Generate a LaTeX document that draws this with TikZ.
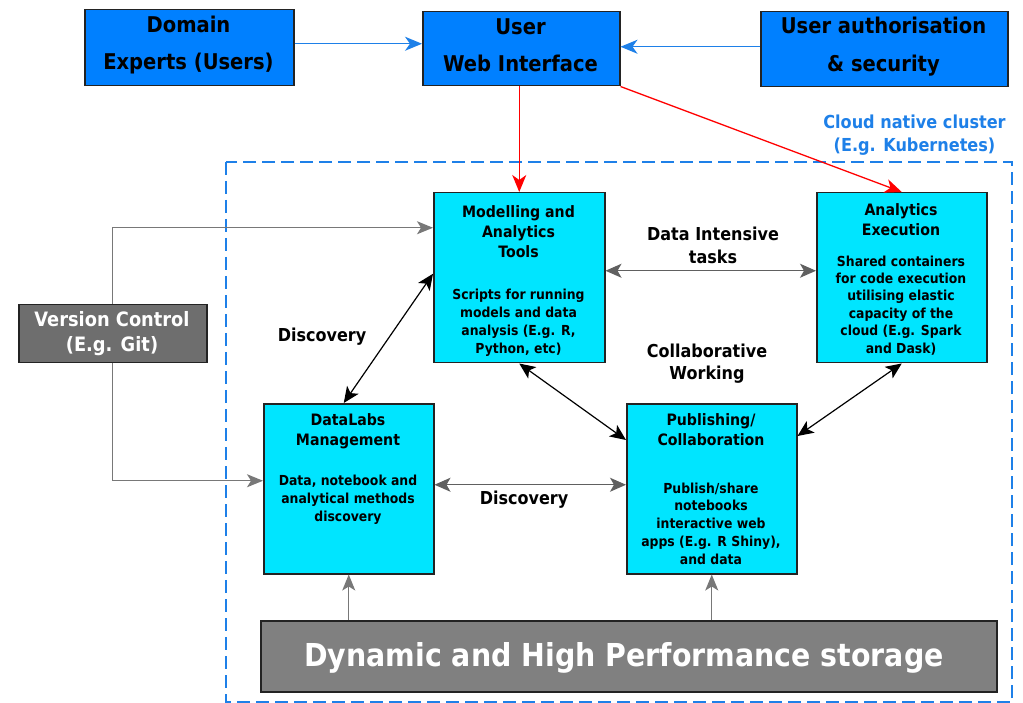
\documentclass[tikz,border=0pt]{standalone}
\usepackage{fontspec}
\setmainfont{DejaVu Sans}[FakeStretch=0.9]
\usetikzlibrary{arrows.meta}
\definecolor{topblue}{RGB}{0,128,255}
\definecolor{boxcyan}{RGB}{0,229,255}
\definecolor{storegray}{RGB}{128,128,128}
\definecolor{vcgray}{RGB}{110,110,110}
\definecolor{clusterblue}{RGB}{30,128,232}
\definecolor{linkgray}{RGB}{120,120,120}
\definecolor{edgedark}{RGB}{35,35,35}
\newcommand{\fs}[2]{\fontsize{#1}{#2}\selectfont\bfseries}
\tikzset{
  box/.style={draw=edgedark, line width=1.5pt, rectangle, inner sep=0pt, anchor=north west},
  topbox/.style={box, fill=topblue},
  cyanbox/.style={box, fill=boxcyan},
  txt/.style={anchor=north, inner sep=0pt, align=center},
  bluearrow/.style={draw=clusterblue, line width=1.3pt, -{Stealth[length=17pt,width=14pt,inset=5pt]}},
  redarrow/.style={draw=red, line width=1.3pt, -{Stealth[length=17pt,width=14pt,inset=5pt]}},
  grayarrow/.style={draw=linkgray, line width=1.4pt, -{Stealth[length=16pt,width=13pt,inset=4pt]}},
  twoway/.style={line width=1.2pt, {Stealth[length=16pt,width=14pt,inset=4pt]}-{Stealth[length=16pt,width=14pt,inset=4pt]}},
}
\begin{document}
\begin{tikzpicture}[x=1pt, y=-1pt]
\useasboundingbox (0,0) rectangle (1023,703);

% cloud cluster boundary
\draw[clusterblue, line width=2.7pt, dash pattern=on 13pt off 6pt] (226,162) rectangle (1012,702);
\node[txt, text=clusterblue, font=\fs{17.9}{23}] (cloud) at (914.5,112.3) {\strut Cloud native cluster\\(E.g. Kubernetes)};

% top row
\node[topbox, minimum width=209pt, minimum height=76pt] (dom) at (84,9) {};
\node[txt, font=\fs{21.7}{37}] (domT) at (188.5,6.9) {\strut Domain\\Experts (Users)};
\node[topbox, minimum width=197pt, minimum height=74pt] (uwi) at (422,11) {};
\node[txt, font=\fs{21.7}{37}] (uwiT) at (520.5,8.9) {\strut User\\Web Interface};
\node[topbox, minimum width=247pt, minimum height=75pt] (auth) at (760,11) {};
\node[txt, font=\fs{21.7}{38}] (authT) at (883.5,7.2) {\strut User authorisation\\\& security};

% version control
\node[box, fill=vcgray, minimum width=188pt, minimum height=58pt] (vc) at (18,304) {};
\node[txt, text=white, font=\fs{19.8}{25}] (vcT) at (112,308.5) {\strut Version Control\\(E.g. Git)};

% components inside the cluster
\node[cyanbox, minimum width=171pt, minimum height=170pt] (mod) at (433,192) {};
\node[txt, font=\fs{15.7}{20}] (modT) at (518.5,203) {\strut Modelling and\\Analytics\\Tools};
\node[txt, font=\fs{13.8}{18}] (modB) at (518.5,286.4) {\strut Scripts for running\\models and data\\analysis (E.g. R,\\Python, etc)};

\node[cyanbox, minimum width=170pt, minimum height=170pt] (ana) at (816,192) {};
\node[txt, font=\fs{15.7}{19.5}] (anaT) at (901,202) {\strut Analytics\\Execution};
\node[txt, font=\fs{13.8}{17.4}] (anaB) at (901,253.8) {\strut Shared containers\\for code execution\\utilising elastic\\capacity of the\\cloud (E.g. Spark\\and Dask)};

\node[cyanbox, minimum width=170pt, minimum height=170pt] (dl) at (263,403) {};
\node[txt, font=\fs{15.7}{20}] (dlT) at (348,411.7) {\strut DataLabs\\Management};
\node[txt, font=\fs{13.8}{18}] (dlB) at (348,472.4) {\strut Data, notebook and\\analytical methods\\discovery};

\node[cyanbox, minimum width=170pt, minimum height=170pt] (pub) at (626,403) {};
\node[txt, font=\fs{15.7}{20}] (pubT) at (711,411.7) {\strut Publishing/\\Collaboration};
\node[txt, font=\fs{13.8}{17.75}] (pubB) at (711,480.6) {\strut Publish/share\\notebooks\\interactive web\\apps (E.g. R Shiny),\\and data};

\node[box, fill=storegray, minimum width=736pt, minimum height=71pt] (st) at (260,620) {};
\node[txt, text=white, font=\fs{31.6}{38}] (stT) at (624,639.9) {\strut Dynamic and High Performance storage};

% free labels
\node[txt, font=\fs{17.8}{23}] (lblData) at (713,224.3) {\strut Data Intensive\\tasks};
\node[txt, font=\fs{17.8}{22}] (lblDisc1) at (322,326) {\strut Discovery};
\node[txt, font=\fs{17.8}{22}] (lblColl) at (707,342) {\strut Collaborative\\Working};
\node[txt, font=\fs{17.8}{22}] (lblDisc2) at (524,489) {\strut Discovery};

% access arrows
\draw[bluearrow] ([yshift=4pt]dom.east) -- ([yshift=4pt]dom.east -| uwi.west);
\draw[bluearrow] ([yshift=2.5pt]auth.west) -- ([yshift=2.5pt]auth.west -| uwi.east);
\draw[redarrow] (uwi.south -| mod.north) -- (mod.north);
\draw[redarrow] (uwi.south east) -- (ana.north);

% version control links
\draw[grayarrow] (vc.north) |- ([yshift=50pt]mod.west);
\draw[grayarrow] (vc.south) |- ([yshift=8pt]dl.west);

% storage links
\draw[grayarrow] (st.north -| dl.south) -- (dl.south);
\draw[grayarrow] (st.north -| pub.south) -- (pub.south);

% two-way links
\draw[twoway, draw=linkgray!80!black] ([yshift=7pt]mod.east) -- ([yshift=7pt]ana.west);
\draw[twoway, draw=linkgray!80!black] ([yshift=4pt]dl.east) -- ([yshift=4pt]pub.west);
\draw[twoway] ([yshift=4pt]mod.west) -- ([xshift=-5pt]dl.north);
\draw[twoway] (mod.south) -- ([yshift=-37pt]pub.north west);
\draw[twoway] (ana.south) -- ([yshift=-33pt]pub.north east);
\end{tikzpicture}
\end{document}
